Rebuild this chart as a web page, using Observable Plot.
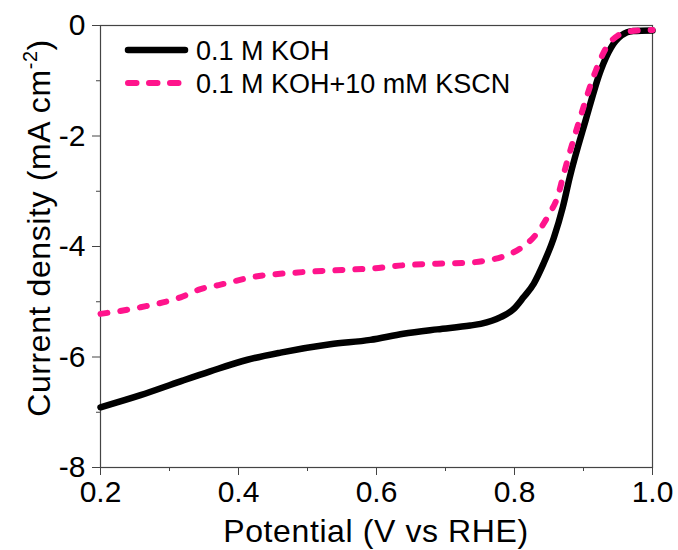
<!DOCTYPE html>
<html>
<head>
<meta charset="utf-8">
<script src="https://cdn.jsdelivr.net/npm/d3@7"></script>
<script src="https://cdn.jsdelivr.net/npm/@observablehq/plot@0.6"></script>
<style>
  html, body { margin: 0; padding: 0; background: #fff; }
</style>
</head>
<body>
<div id="chart"></div>
<script>
// Series: 0.1 M KOH
const potentialKOH = [0.200, 0.258, 0.316, 0.359, 0.413, 0.461, 0.533, 0.591, 0.639, 0.688, 0.736, 0.751, 0.780, 0.799, 0.813, 0.828, 0.842, 0.857, 0.870, 0.880, 0.903, 0.925, 0.940, 0.955, 0.972, 1.000];
const currentKOH   = [-6.91, -6.69, -6.44, -6.26, -6.05, -5.92, -5.77, -5.69, -5.58, -5.50, -5.43, -5.40, -5.28, -5.13, -4.92, -4.67, -4.31, -3.84, -3.29, -2.75, -1.72, -0.81, -0.40, -0.18, -0.10, -0.09];
// Series: 0.1 M KOH + 10 mM KSCN
const potentialKSCN = [0.200, 0.258, 0.316, 0.345, 0.374, 0.422, 0.486, 0.558, 0.591, 0.639, 0.688, 0.736, 0.761, 0.784, 0.809, 0.830, 0.849, 0.864, 0.870, 0.894, 0.918, 0.933, 0.950, 0.970, 1.000];
const currentKSCN   = [-5.22, -5.10, -4.92, -4.77, -4.69, -4.55, -4.47, -4.42, -4.40, -4.34, -4.31, -4.29, -4.25, -4.18, -4.03, -3.80, -3.44, -3.04, -2.75, -1.72, -0.81, -0.40, -0.18, -0.10, -0.08];

const seriesNames = ["0.1 M KOH", "0.1 M KOH+10 mM KSCN"];
const xMajorTicks = [0.2, 0.4, 0.6, 0.8, 1.0];
const xMinorTicks = [0.3, 0.5, 0.7, 0.9];
const yMajorTicks = [0, -2, -4, -6, -8];
const yMinorTicks = [-1, -3, -5, -7];
const xTitle = "Potential (V vs RHE)";

const koh = potentialKOH.map((v, i) => ({v, j: currentKOH[i]}));
const kscn = potentialKSCN.map((v, i) => ({v, j: currentKSCN[i]}));

const PINK = "#ff148c";
const FONT = "'Liberation Sans', Arial, sans-serif";
const FS = 30;     // tick labels
const TFS = 32;    // axis titles
const LFS = 27;    // legend

const plot = Plot.plot({
  width: 678,
  height: 550,
  marginLeft: 100,
  marginRight: 26,
  marginTop: 25,
  marginBottom: 83,
  style: {fontFamily: FONT, fontSize: FS + "px", color: "#000", background: "#fff"},
  x: {domain: [0.2, 1.0]},
  y: {domain: [-8, 0]},
  marks: [
    Plot.frame({stroke: "#444", strokeWidth: 1.2}),
    Plot.axisX({ticks: xMajorTicks, tickSize: 8, tickPadding: 5, tickFormat: d3.format(".1f"), fontSize: FS, label: null, stroke: "#444"}),
    Plot.axisX({ticks: xMinorTicks, tickSize: 4, text: null, label: null, stroke: "#444"}),
    Plot.axisY({ticks: yMajorTicks, tickSize: 8, tickPadding: 7, tickFormat: d => String(d), fontSize: FS, label: null, stroke: "#444"}),
    Plot.axisY({ticks: yMinorTicks, tickSize: 4, text: null, label: null, stroke: "#444"}),
    Plot.line(koh, {x: "v", y: "j", stroke: "#000", strokeWidth: 6.5, curve: "monotone-x"}),
    Plot.line(kscn, {x: "v", y: "j", stroke: PINK, strokeWidth: 6, strokeDasharray: "7,13", strokeLinecap: "round", curve: "monotone-x"})
  ]
});

document.getElementById("chart").appendChild(plot);

const svg = d3.select(plot);
const xs = plot.scale("x");
const xMid = (xs.apply(0.2) + xs.apply(1.0)) / 2;

// X title
svg.append("text")
  .attr("x", xMid).attr("y", 542)
  .attr("text-anchor", "middle")
  .attr("font-family", FONT).attr("font-size", TFS).attr("letter-spacing", "0.6px").attr("fill", "#000")
  .text(xTitle);

// Y title with superscript
const yt = svg.append("text")
  .attr("transform", `translate(50,228) rotate(-90)`)
  .attr("text-anchor", "middle")
  .attr("font-family", FONT).attr("font-size", TFS).attr("letter-spacing", "0.6px").attr("fill", "#000");
yt.append("tspan").text("Current density (mA cm");
yt.append("tspan").attr("font-size", TFS * 0.62).attr("dy", -TFS * 0.42).text("-2");
yt.append("tspan").attr("dy", TFS * 0.42).text(")");

// Legend
const lg = svg.append("g").attr("font-family", FONT).attr("font-size", LFS).attr("fill", "#000").attr("text-anchor", "start");
const rows = [
  {name: seriesNames[0], stroke: "#000", width: 6.5, dash: null, y: 50},
  {name: seriesNames[1], stroke: PINK, width: 6, dash: "8.5,12.5", y: 83}
];
rows.forEach(r => {
  const ln = lg.append("line").attr("x1", 128).attr("x2", 185).attr("y1", r.y).attr("y2", r.y)
    .attr("stroke", r.stroke).attr("stroke-width", r.width).attr("stroke-linecap", "round");
  if (r.dash) ln.attr("stroke-dasharray", r.dash);
  lg.append("text").attr("x", 196).attr("y", r.y + 9.5).text(r.name);
});
</script>
</body>
</html>
